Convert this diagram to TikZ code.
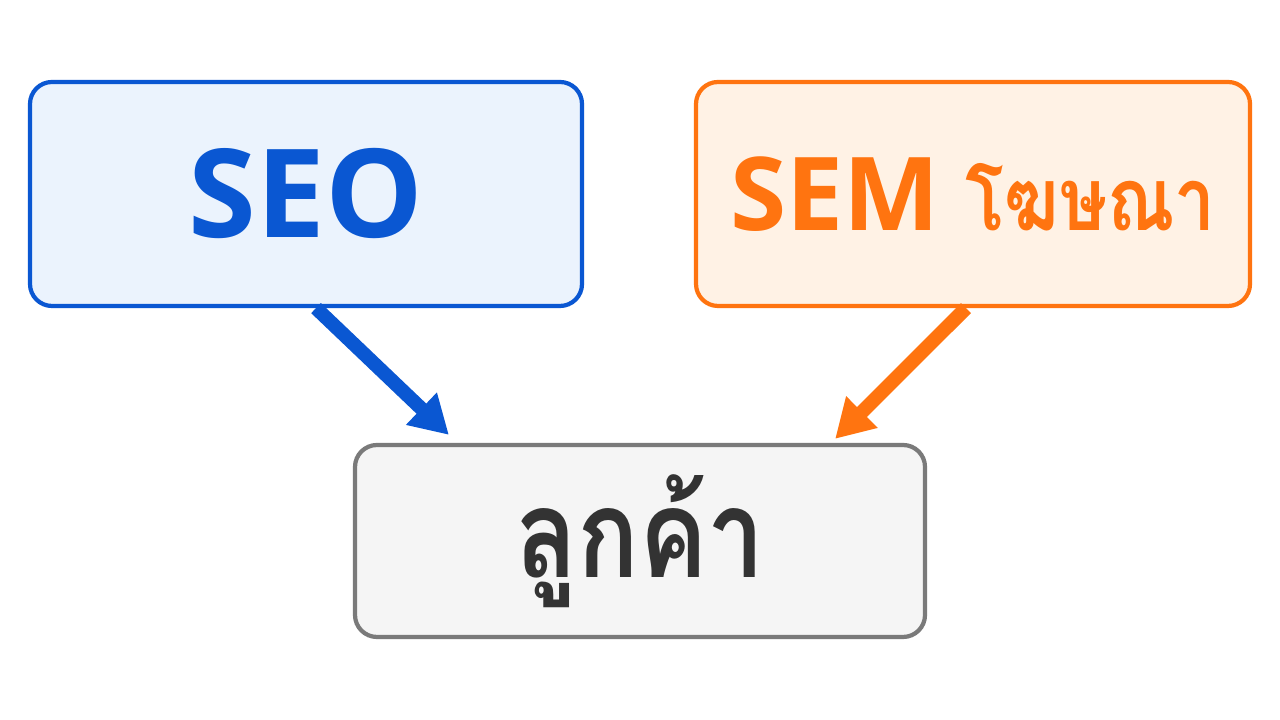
\documentclass[tikz,border=0pt]{standalone}
\usepackage{fontspec}
\setmainfont{Open Sans}
\newfontfamily\thaifont[Script=Thai,FakeStretch=0.83]{Loma}
\usetikzlibrary{arrows.meta}

\definecolor{seoblue}{HTML}{0A57D2}
\definecolor{seofill}{HTML}{EBF3FD}
\definecolor{semorange}{HTML}{FF7410}
\definecolor{semfill}{HTML}{FFF2E5}
\definecolor{custgray}{HTML}{7A7A7A}
\definecolor{custfill}{HTML}{F5F5F5}
\definecolor{custtext}{HTML}{333333}

\tikzset{
  box/.style={rectangle, draw, rounded corners=0.22cm, line width=1.2pt, font=\bfseries},
  flow/.style={-{Triangle[length=0.38cm,width=0.42cm]}, line width=0.14cm}
}

\begin{document}
\begin{tikzpicture}
				\fill[white] (0,0) rectangle (12.8,7.2);
				\useasboundingbox (0,0) rectangle (12.8,7.2);

				\node[box, draw=seoblue, fill=seofill, text=seoblue,
				minimum width=5.52cm, minimum height=2.24cm,
				font=\bfseries\fontsize{35}{40}\selectfont] (seo) at (3.06,5.26) {SEO};
				\node[box, draw=semorange, fill=semfill, text=semorange,
				minimum width=5.54cm, minimum height=2.24cm,
				font=\bfseries\fontsize{29}{34}\selectfont] (sem) at (9.73,5.26)
				{SEM {\thaifont\bfseries\fontsize{25}{30}\selectfont โฆษณา}};
				\node[box, draw=custgray, fill=custfill, text=custtext,
				minimum width=5.70cm, minimum height=1.92cm,
				font=\thaifont\bfseries\fontsize{35}{40}\selectfont] (cust) at (6.40,1.79) {ลูกค้า};

				\coordinate (s1) at ([xshift=0.10cm]seo.south);
				\coordinate (s2) at ([xshift=-0.07cm]sem.south);
				\coordinate (t1) at ([xshift=0.96cm,yshift=0.08cm]cust.north west);
				\coordinate (t2) at ([xshift=-0.92cm,yshift=0.04cm]cust.north east);

				\foreach \from/\to/\col in {s1/t1/seoblue, s2/t2/semorange}
				\draw[flow, \col] (\from) -- (\to);
\end{tikzpicture}
\end{document}
